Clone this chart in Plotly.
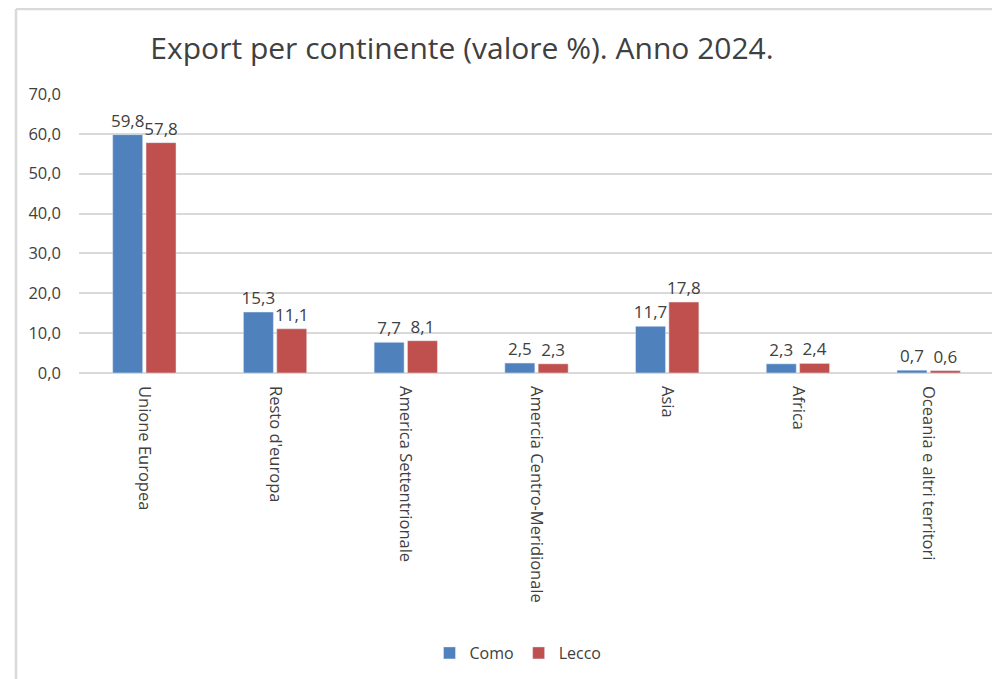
import plotly.graph_objects as go

categories = ["Unione Europea", "Resto d'europa", "America Settentrionale",
              "Amercia Centro-Meridionale", "Asia", "Africa", "Oceania e altri territori"]
como = [59.8, 15.3, 7.7, 2.5, 11.7, 2.3, 0.7]
lecco = [57.8, 11.1, 8.1, 2.3, 17.8, 2.4, 0.6]
y_ticks = [0, 10, 20, 30, 40, 50, 60, 70]

# page body has an 8px margin; figure occupies screen 8..1000 x 8..679
OX, OY = 8, 8
W, H = 992, 671
PX0, PX1 = 79, 994      # plot area, screen coords
PY0, PY1 = 94, 373
L, R = PX0 - OX, (OX + W) - PX1
T, B = PY0 - OY, (OY + H) - PY1
pw, ph = PX1 - PX0, PY1 - PY0

def px(x):
    return (x - PX0) / pw

def py(y):
    return (PY1 - y) / ph

FONT = "Open Sans, Liberation Sans, sans-serif"
GREY = "#404040"
txtfont = dict(family=FONT, size=17, color=GREY)

fig = go.Figure()
fig.add_trace(go.Bar(name="Como", x=categories, y=como, marker_color="#4F81BD",
                     text=[f"{v:.1f}".replace(".", ",") for v in como],
                     textposition="outside", textfont=txtfont, cliponaxis=False,
                     constraintext="none"))
fig.add_trace(go.Bar(name="Lecco", x=categories, y=lecco, marker_color="#C0504D",
                     text=[f"{v:.1f}".replace(".", ",") for v in lecco],
                     textposition="outside", textfont=txtfont, cliponaxis=False,
                     constraintext="none"))

fig.update_layout(
    width=W, height=H,
    margin=dict(l=L, r=R, t=T, b=B),
    paper_bgcolor="white", plot_bgcolor="white",
    separators=",.",
    barmode="group", bargap=0.49, bargroupgap=0.1,
    title=dict(text="Export per continente (valore %). Anno 2024.",
               xref="container", x=(462 - OX) / W, xanchor="center",
               yref="container", y=1 - (48 - OY) / H, yanchor="middle",
               font=dict(family=FONT, size=30, color=GREY)),
    xaxis=dict(tickangle=90, showgrid=False, showline=False, ticks="",
               ticklabelstandoff=12,
               tickfont=dict(family=FONT, size=16.5, color=GREY)),
    yaxis=dict(range=[0, 70], tickvals=y_ticks, tickformat=".1f",
               showgrid=True, gridcolor="#d9d9d9", gridwidth=1.5,
               zeroline=True, zerolinecolor="#d9d9d9", zerolinewidth=1.5,
               showline=False, ticks="", ticklabelstandoff=17,
               tickfont=dict(family=FONT, size=16.5, color=GREY)),
    legend=dict(orientation="h", x=px(518), xanchor="center", y=py(653), yanchor="middle",
                itemwidth=30, font=dict(family=FONT, size=16, color=GREY)),
    showlegend=True,
    shapes=[
        dict(type="line", xref="paper", yref="paper", x0=px(16), x1=px(1000), y0=py(9), y1=py(9),
             line=dict(color="#d9d9d9", width=2.5)),
        dict(type="line", xref="paper", yref="paper", x0=px(16), x1=px(16), y0=py(9), y1=py(679),
             line=dict(color="#d9d9d9", width=2.5)),
    ],
)

fig.write_html("out.html")
